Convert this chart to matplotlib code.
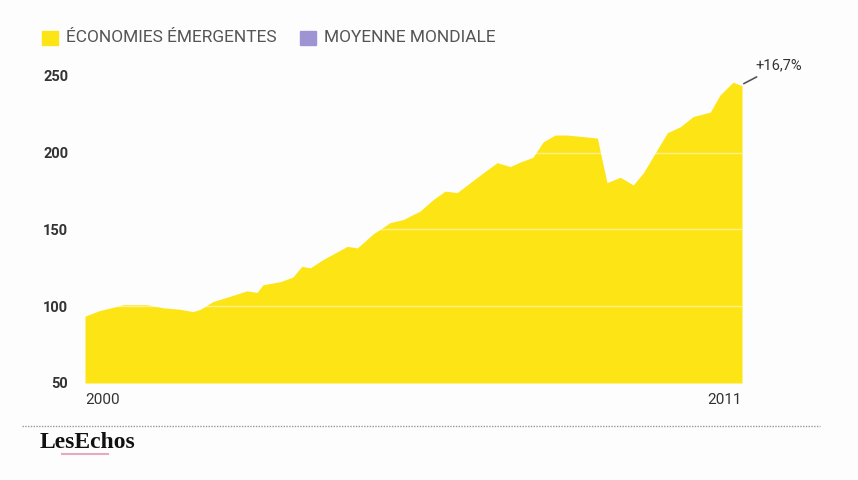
import matplotlib.pyplot as plt
from matplotlib.patches import Rectangle

# Data (fractional years, index level)
years = [2000.0, 2000.23, 2000.64, 2001.04, 2001.31, 2001.59, 2001.81, 2001.93,
         2002.14, 2002.43, 2002.71, 2002.88, 2002.98, 2003.27, 2003.48, 2003.63,
         2003.77, 2003.99, 2004.39, 2004.56, 2004.82, 2005.11, 2005.33, 2005.61,
         2005.83, 2006.03, 2006.23, 2006.45, 2006.67, 2006.90, 2007.12, 2007.29,
         2007.50, 2007.67, 2007.87, 2008.07, 2008.34, 2008.58, 2008.63, 2008.74,
         2008.96, 2009.18, 2009.35, 2009.58, 2009.75, 2009.97, 2010.18, 2010.47,
         2010.63, 2010.85, 2010.97, 2011.0]
emerging = [93.5, 97, 101, 101, 99, 98, 96.5, 98,
            103, 106.5, 110, 109, 114, 116, 119, 126,
            125, 130.5, 139, 138, 147, 154.5, 156.5, 162,
            169.5, 175, 174, 180.5, 187, 193.5, 191, 194,
            197, 207, 211.5, 211.5, 210.5, 209.5, 200, 180.5,
            184, 179, 187, 202, 213, 217, 223.5, 226.5,
            237.5, 246, 244, 244]

yticks = [50, 100, 150, 200, 250]
series_labels = ['ÉCONOMIES ÉMERGENTES', 'MOYENNE MONDIALE']
series_colors = ['#FDE414', '#9E93D3']
annotation = '+16,7%'

TXT = '#333333'
FONT = ['Roboto', 'DejaVu Sans']

fig = plt.figure(figsize=(8.58, 4.8), dpi=100, facecolor='#FEFDFE')
ax = fig.add_axes([85/858, 1 - 383/480, (742-85)/858, (383-60.6)/480])
ax.set_facecolor('none')

ax.fill_between(years, 50, emerging, color=series_colors[0], linewidth=0, zorder=1)
for v in yticks[1:4]:
    ax.axhline(v, color='white', lw=1, alpha=0.5, zorder=2)

ax.set_xlim(2000, 2011)
ax.set_ylim(50, 260)
for s in ax.spines.values():
    s.set_visible(False)
ax.set_xticks([])
ax.set_yticks(yticks)
ax.set_yticklabels([str(v) for v in yticks], fontsize=10.5, fontweight='bold',
                   color=TXT, family=FONT)
ax.tick_params(axis='y', length=0, pad=12)

# x labels at the edges
ax.text(0, -0.03, '2000', transform=ax.transAxes, ha='left', va='top',
        fontsize=11, color=TXT, family=FONT)
ax.text(1, -0.03, '2011', transform=ax.transAxes, ha='right', va='top',
        fontsize=11, color=TXT, family=FONT)

# annotation
ax.annotate(annotation, xy=(years[-1] + 0.03, 245), xytext=(years[-1] + 0.23, 257),
            fontsize=10.5, color=TXT, ha='left', va='center', family=FONT,
            arrowprops=dict(arrowstyle='-', color='#555555', lw=1.2, shrinkA=3, shrinkB=0),
            annotation_clip=False)

# legend
lx = [42, 300]
tx = [66, 324]
for i in range(2):
    fig.patches.append(Rectangle((lx[i]/858, 1 - 45/480), 16/858, 14/480,
                                 transform=fig.transFigure, color=series_colors[i]))
    fig.text(tx[i]/858, 1 - 38/480, series_labels[i], ha='left', va='center',
             fontsize=12.5, color='#555555', family=FONT)

# footer
fig.add_artist(plt.Line2D([22/858, 820/858], [1 - 426/480, 1 - 426/480],
                          transform=fig.transFigure, color='#999999', lw=1,
                          linestyle=(0, (1, 1))))
fig.text(40/858, 1 - 442/480, 'LesEchos', ha='left', va='center', fontsize=17,
         color='#111111', family=['Liberation Serif', 'DejaVu Serif'],
         fontweight='bold')
fig.add_artist(plt.Line2D([62/858, 108/858], [1 - 454/480, 1 - 454/480],
                          transform=fig.transFigure, color='#E8A8C0', lw=1.5))

fig.savefig('out.png', dpi=100, facecolor=fig.get_facecolor())
